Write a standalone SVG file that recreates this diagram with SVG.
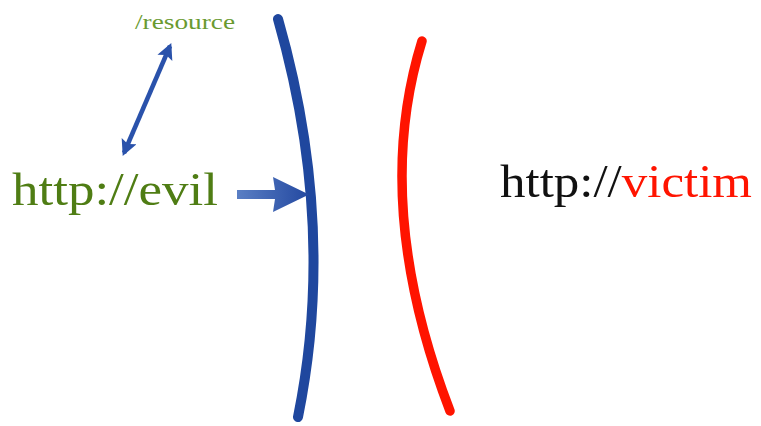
<svg xmlns="http://www.w3.org/2000/svg" width="761" height="426" viewBox="0 0 761 426">
<defs>
<style>
.serif{font-family:"Liberation Serif","DejaVu Serif",serif}
.green{fill:#4f7d14}
</style>
<linearGradient id="ag" x1="237" y1="0" x2="310" y2="0" gradientUnits="userSpaceOnUse">
<stop offset="0" stop-color="#5a7fc4"/>
<stop offset="1" stop-color="#2348a0"/>
</linearGradient>
<marker id="ah" viewBox="0 0 10 10" refX="8" refY="5" markerWidth="4.5" markerHeight="3.6" orient="auto-start-reverse" markerUnits="strokeWidth">
<path d="M0,0 L10,5 L0,10 L2,5 Z" fill="#2a52ab"/>
</marker>
</defs>
<rect width="761" height="426" fill="#fff"/>
<g id="boundary-evil">
<path d="M278,19 Q337,225 298,417" fill="none" stroke="#1f479e" stroke-width="10" stroke-linecap="round"/>
</g>
<g id="boundary-victim">
<path d="M422,41 Q371,205 450,411" fill="none" stroke="#ff1400" stroke-width="9.5" stroke-linecap="round"/>
</g>
<g id="resource">
<text class="serif green" x="135" y="29" font-size="22" textLength="100" lengthAdjust="spacingAndGlyphs" style="fill:#6a9a30">/resource</text>
</g>
<g id="evil">
<text class="serif green" x="12" y="205" font-size="47" textLength="206" lengthAdjust="spacingAndGlyphs">http://evil</text>
</g>
<g id="victim">
<text class="serif" x="500" y="197" font-size="47" textLength="252" lengthAdjust="spacingAndGlyphs"><tspan fill="#111">http://</tspan><tspan fill="#ff1400">victim</tspan></text>
</g>
<g id="connectors">
<line x1="124" y1="153" x2="170" y2="46" stroke="#2a52ab" stroke-width="4.5" marker-start="url(#ah)" marker-end="url(#ah)"/>
<path d="M237,190 L275,190 L273,177 L309,194.5 L273,212 L275,199 L237,199 Z" fill="url(#ag)"/>
</g>
</svg>
